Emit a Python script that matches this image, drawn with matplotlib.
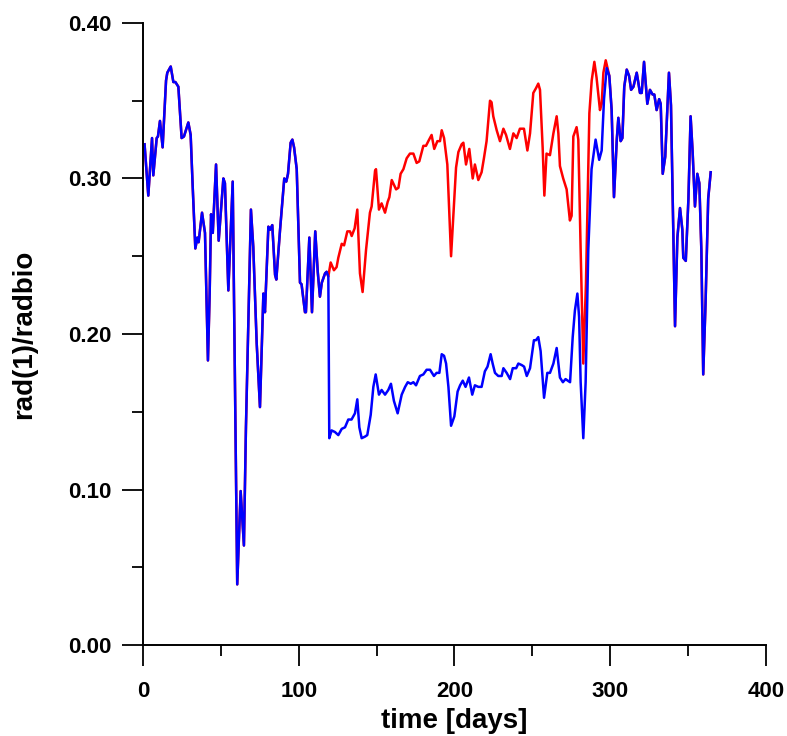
import numpy as np
import matplotlib
matplotlib.use("Agg")
import matplotlib.pyplot as plt
from matplotlib.ticker import MultipleLocator, FormatStrFormatter

# shared part of both runs (days 0 - 119)
days_start = [1, 3.4, 5.8, 6.6, 8.8, 9.6, 10.9, 12.6, 14.8, 15.6, 17.8, 19.5, 20.8,
              22.7, 24.8, 26.3, 29.1, 30.6, 31.9, 33.6, 34.9, 35.7, 37.9, 39.8, 41.7,
              42.8, 43.7, 44.8, 46.9, 48.6, 51.6, 52.6, 54.8, 57.6, 60.5, 62.7, 64.8,
              66.1, 69.3, 70.8, 73.0, 75.1, 77.3, 78.3, 80.5, 81.5, 83.0, 84.8, 85.6,
              88.0, 90.7, 92.0, 93.1, 94.8, 95.9, 97.0, 98.7, 100.8, 101.8, 104.0,
              104.6, 106.8, 108.5, 110.6, 112.2, 113.6, 114.8, 116.9, 117.9, 119.0]
rad_start = [0.322, 0.289, 0.326, 0.302, 0.326, 0.327, 0.337, 0.320, 0.363, 0.368,
             0.372, 0.362, 0.362, 0.359, 0.326, 0.327, 0.336, 0.328, 0.295, 0.255,
             0.262, 0.259, 0.278, 0.265, 0.183, 0.226, 0.277, 0.265, 0.309, 0.260,
             0.300, 0.297, 0.228, 0.298, 0.039, 0.099, 0.064, 0.140, 0.280, 0.256,
             0.194, 0.153, 0.226, 0.214, 0.269, 0.267, 0.270, 0.238, 0.235, 0.267,
             0.300, 0.298, 0.303, 0.323, 0.325, 0.320, 0.306, 0.233, 0.232, 0.214,
             0.214, 0.262, 0.214, 0.266, 0.240, 0.224, 0.233, 0.239, 0.240, 0.237]

# red run, days 119 - 298
days_red = [120.5, 122.6, 124.3, 125.4, 127.6, 129.1, 131.2, 132.9, 134.0, 135.9,
            137.6, 139.3, 141.0, 143.2, 145.7, 146.8, 149.0, 149.6, 151.5, 153.2,
            155.4, 157.1, 158.2, 159.7, 162.5, 164.0, 165.4, 167.2, 169.3, 171.4,
            173.6, 175.7, 177.4, 180.0, 181.7, 183.2, 185.3, 187.0, 189.0, 190.7,
            191.8, 193.3, 195.4, 197.8, 199.3, 201.0, 202.5, 204.6, 205.7, 207.4,
            209.5, 211.7, 213.1, 215.3, 217.4, 218.9, 220.6, 222.8, 223.8, 224.9,
            227.1, 229.2, 231.4, 233.1, 235.6, 237.8, 239.9, 242.0, 244.6, 246.8,
            248.5, 250.6, 252.3, 253.8, 254.9, 256.6, 257.7, 259.1, 261.3, 263.5,
            265.6, 266.7, 267.7, 269.8, 272.0, 274.1, 275.2, 276.3, 278.4, 279.5,
            281.0, 282.7, 284.4, 286.6, 288.1, 289.8, 291.2, 293.4, 294.5, 295.6,
            297.1]
red_mid = [0.246, 0.241, 0.243, 0.249, 0.258, 0.257, 0.266, 0.266, 0.263, 0.268,
           0.280, 0.239, 0.227, 0.254, 0.278, 0.282, 0.305, 0.306, 0.280, 0.284,
           0.278, 0.285, 0.288, 0.299, 0.293, 0.294, 0.303, 0.306, 0.313, 0.316,
           0.316, 0.310, 0.311, 0.321, 0.321, 0.324, 0.328, 0.319, 0.324, 0.324,
           0.331, 0.326, 0.309, 0.250, 0.277, 0.307, 0.317, 0.322, 0.323, 0.309,
           0.319, 0.300, 0.309, 0.299, 0.304, 0.313, 0.324, 0.350, 0.349, 0.340,
           0.331, 0.324, 0.332, 0.328, 0.319, 0.329, 0.326, 0.332, 0.332, 0.318,
           0.329, 0.355, 0.358, 0.361, 0.357, 0.320, 0.289, 0.316, 0.315, 0.329,
           0.340, 0.329, 0.308, 0.300, 0.293, 0.273, 0.276, 0.327, 0.333, 0.325,
           0.254, 0.181, 0.232, 0.342, 0.363, 0.375, 0.365, 0.344, 0.348, 0.368,
           0.376]

# blue run, days 119 - 298
days_blue = [119.6, 121.1, 123.2, 125.4, 127.6, 129.7, 131.8, 133.9, 136.1, 137.6,
             138.9, 140.4, 142.5, 144.0, 146.2, 147.9, 149.4, 151.5, 153.2, 155.4,
             157.5, 159.2, 161.1, 163.5, 166.1, 168.3, 170.0, 171.9, 173.6, 175.3,
             177.8, 180.0, 182.1, 184.3, 186.8, 188.5, 190.3, 191.8, 193.3, 194.6,
             196.1, 197.8, 199.9, 202.0, 203.6, 205.3, 207.1, 209.3, 211.4, 213.1,
             215.3, 217.4, 219.5, 221.2, 223.2, 224.5, 226.0, 228.1, 230.3, 231.4,
             233.5, 235.7, 237.4, 239.6, 241.0, 243.2, 244.7, 246.4, 248.5, 251.0,
             252.3, 253.8, 255.3, 257.5, 259.6, 261.3, 263.5, 265.6, 267.7, 269.6,
             271.3, 272.7, 274.2, 275.9, 277.3, 278.9, 280.0, 281.0, 282.7, 284.2,
             285.9, 288.0, 290.6, 292.9, 294.5, 296.0, 297.7]
blue_mid = [0.133, 0.138, 0.137, 0.135, 0.139, 0.140, 0.145, 0.145, 0.149, 0.158,
            0.140, 0.133, 0.134, 0.135, 0.148, 0.166, 0.174, 0.161, 0.164, 0.161,
            0.164, 0.168, 0.157, 0.149, 0.161, 0.166, 0.169, 0.168, 0.169, 0.167,
            0.173, 0.174, 0.177, 0.177, 0.173, 0.175, 0.175, 0.187, 0.186, 0.181,
            0.166, 0.141, 0.147, 0.163, 0.167, 0.170, 0.166, 0.172, 0.161, 0.167,
            0.166, 0.166, 0.176, 0.179, 0.187, 0.181, 0.175, 0.173, 0.173, 0.178,
            0.175, 0.171, 0.178, 0.178, 0.181, 0.180, 0.179, 0.173, 0.178, 0.196,
            0.196, 0.198, 0.189, 0.159, 0.175, 0.175, 0.181, 0.191, 0.172, 0.169,
            0.171, 0.170, 0.169, 0.198, 0.215, 0.226, 0.211, 0.169, 0.133, 0.169,
            0.254, 0.306, 0.325, 0.312, 0.318, 0.351, 0.371]

# shared part again (days 298 - 365)
days_end = [299.4, 300.9, 302.4, 304.2, 305.2, 306.7, 307.8, 309.0, 310.6, 312.1,
            313.4, 314.9, 317.0, 319.1, 320.2, 321.7, 323.8, 325.5, 327.2, 328.3,
            329.8, 331.4, 332.4, 333.7, 335.3, 337.7, 339.0, 340.1, 341.6, 343.1,
            344.8, 346.3, 346.9, 348.5, 350.2, 351.6, 352.9, 354.4, 355.9, 357.2,
            358.5, 359.7, 361.2, 362.9, 364.5]
rad_end = [0.366, 0.344, 0.288, 0.325, 0.339, 0.324, 0.326, 0.359, 0.370, 0.366,
           0.357, 0.359, 0.368, 0.355, 0.355, 0.375, 0.348, 0.357, 0.354, 0.354,
           0.344, 0.351, 0.348, 0.303, 0.314, 0.368, 0.347, 0.287, 0.205, 0.262,
           0.281, 0.267, 0.249, 0.247, 0.287, 0.340, 0.317, 0.282, 0.303, 0.297,
           0.254, 0.174, 0.220, 0.287, 0.304]

red_x = days_start + days_red + days_end
red_y = rad_start + red_mid + rad_end
blue_x = days_start + days_blue + days_end
blue_y = rad_start + blue_mid + rad_end

plt.rcParams['font.family'] = ['Liberation Sans', 'DejaVu Sans']
plt.rcParams['font.weight'] = 'bold'

fig = plt.figure(figsize=(7.87, 7.36), dpi=100)
ax = fig.add_axes([0.1817, 0.1236, 0.7916, 0.8452])

ax.plot(red_x, red_y, color='#ff0000', lw=1.8)
ax.plot(blue_x, blue_y, color='#0000ff', lw=1.8)

ax.set_xlim(0, 400)
ax.set_ylim(0, 0.40)
ax.xaxis.set_major_locator(MultipleLocator(100))
ax.xaxis.set_minor_locator(MultipleLocator(50))
ax.yaxis.set_major_locator(MultipleLocator(0.1))
ax.yaxis.set_minor_locator(MultipleLocator(0.05))
ax.yaxis.set_major_formatter(FormatStrFormatter('%.2f'))

for s in ['top', 'right']:
    ax.spines[s].set_visible(False)
for s in ['left', 'bottom']:
    ax.spines[s].set_linewidth(1.4)

ax.tick_params(which='major', direction='out', length=15, width=1.3,
               labelsize=16)
ax.tick_params(axis='x', which='major', pad=11)
ax.tick_params(axis='y', which='major', pad=8)
ax.tick_params(which='minor', direction='out', length=8, width=1.3)

ax.set_xlabel('time [days]', fontsize=20, fontweight='bold', labelpad=4)
ax.set_ylabel('rad(1)/radbio', fontsize=20, fontweight='bold', labelpad=22)

fig.savefig('out.png', dpi=100)
